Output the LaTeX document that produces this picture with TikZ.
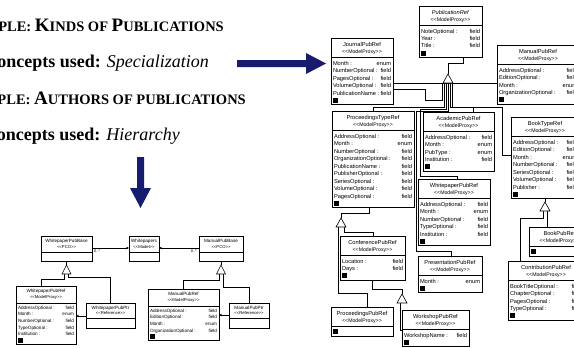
\documentclass[tikz,border=0pt]{standalone}
\usepackage{fontspec}
\setmainfont{Liberation Serif}
\newfontfamily\umlfont{Liberation Sans}
\usetikzlibrary{arrows.meta}
\definecolor{navy}{HTML}{161C6E}
\newcommand\stt[1]{<\kern0pt<#1>\kern0pt>}
\newcommand\bigc[1]{{\fontsize{19}{19}\selectfont #1}}
\newcommand\smc[1]{{\fontsize{14.5}{14.5}\selectfont #1}}
\tikzset{
 box/.style={draw=black, line width=0.7pt, fill=white, inner sep=0pt, outer sep=0pt},
 sepl/.style={line width=0.6pt},
 gen/.style={draw=black, line width=0.6pt},
 tri/.style={draw=black, fill=white, line width=0.6pt, line join=miter},
 rtitle/.style={font=\umlfont\fontsize{5.7}{6}\selectfont, inner sep=0pt, anchor=base},
 rster/.style={font=\umlfont\fontsize{5.2}{6}\selectfont, inner sep=0pt, anchor=base},
 ratt/.style={font=\umlfont\fontsize{5.7}{6}\selectfont, inner sep=0pt},
 ltitle/.style={font=\umlfont\fontsize{4.6}{5}\selectfont, inner sep=0pt, anchor=base},
 lster/.style={font=\umlfont\fontsize{4.2}{5}\selectfont, inner sep=0pt, anchor=base},
 latt/.style={font=\umlfont\fontsize{4.6}{5}\selectfont, inner sep=0pt},
 lmult/.style={font=\umlfont\fontsize{4}{4}\selectfont, inner sep=0pt},
 heading/.style={inner sep=0pt, anchor=base east},
 assoc/.style={draw=black, line width=0.6pt, -{Stealth[length=3pt,width=2.6pt]}},
}
\newcommand\mkbox[6]{%
 \node[box, minimum width=#4pt, minimum height=#5pt, anchor=north west] (#1) at (#2,#3) {};%
 \draw[sepl] ([yshift=-#6pt]#1.north west) -- ([yshift=-#6pt]#1.north east);}
\newcommand\att[6]{%
 \node[#2, anchor=base west] (#1-#4n) at ([xshift=1.8pt,yshift=-#3pt]#1.north west) {#5 :};%
 \node[#2, anchor=base east] (#1-#4t) at ([xshift=-1.8pt,yshift=-#3pt]#1.north east) {#6};}
\newcommand\sq[1]{\fill ([xshift=2pt,yshift=2pt]#1.south west) rectangle ++(5,-5);}
% right-hand classes
\newcommand\rcls[7]{%
 \pgfmathsetmacro\hh{29+7.5*#5}%
 \mkbox{#1}{#2}{#3}{#4}{\hh}{19}%
 \node[rtitle] (#1-ti) at ([yshift=-8.5pt]#1.north) {#6};%
 \node[rster] (#1-st) at ([yshift=-15.5pt]#1.north) {#7};%
 \sq{#1}}
\newcommand\ratt[4]{%
 \pgfmathsetmacro\bl{27+7.5*#2}%
 \att{#1}{ratt}{\bl}{a#2}{#3}{#4}}
% left-hand classes
\newcommand\lref[7]{%
 \pgfmathsetmacro\hh{25+6.7*#5}%
 \mkbox{#1}{#2}{#3}{#4}{\hh}{17}%
 \node[ltitle] (#1-ti) at ([yshift=-6pt]#1.north) {#6};%
 \node[lster] (#1-st) at ([yshift=-12.5pt]#1.north) {#7};%
 \sq{#1}}
\newcommand\latt[4]{%
 \pgfmathsetmacro\bl{23+6.7*#2}%
 \att{#1}{latt}{\bl}{a#2}{#3}{#4}}
\newcommand\lsim[9]{%
 \mkbox{#1}{#2}{#3}{#4}{25}{#7}%
 \node[ltitle] (#1-ti) at ([yshift=-#8pt]#1.north) {#5};%
 \node[lster] (#1-st) at ([yshift=-#9pt]#1.north) {#6};}

\begin{document}
\begin{tikzpicture}[x=1pt,y=-1pt]
\useasboundingbox (0,0) rectangle (574,348);
\fill[white] (0,0) rectangle (574,348);

% ---------- headings ----------
\node[heading, font=\bfseries] (h1) at (224,31) {\bigc{E}\smc{XAMPLE: }\bigc{K}\smc{INDS OF }\bigc{P}\smc{UBLICATIONS}};
\node[heading, font=\fontsize{18}{18}\selectfont] (h2) at (209,67) {\textbf{Concepts used:} \textit{Specialization}};
\node[heading, font=\bfseries] (h3) at (246,104) {\bigc{E}\smc{XAMPLE: }\bigc{A}\smc{UTHORS OF PUBLICATIONS}};
\node[heading, font=\fontsize{18}{18}\selectfont] (h4) at (180,140) {\textbf{Concepts used:} \textit{Hierarchy}};

% ---------- big arrows ----------
\fill[navy] (237,60) -- (306,60) -- (306,53) -- (326,63.5) -- (306,74) -- (306,67) -- (237,67) -- cycle;
\fill[navy] (137,157) -- (144,157) -- (144,188) -- (151,188) -- (140.5,208) -- (130,188) -- (137,188) -- cycle;

% ---------- right diagram: coordinates of triangles ----------
\coordinate (g1) at (448,74);  \coordinate (g1b) at (448,83);
\coordinate (g2) at (545,202); \coordinate (g2b) at (545,211);
\coordinate (g3) at (341,218); \coordinate (g3b) at (341,227);
\coordinate (g4) at (402,294); \coordinate (g4b) at (402,303);

% ---------- right diagram: classes ----------
\rcls{pubref}{419}{6}{63}{3}{\textit{PublicationRef}}{\stt{ModelProxy}}
\ratt{pubref}{0}{NoteOptional}{field}
\ratt{pubref}{1}{Year}{field}
\ratt{pubref}{2}{Title}{field}

\rcls{jpr}{331}{38}{62}{5}{JournalPubRef}{\stt{ModelProxy}}
\ratt{jpr}{0}{Month}{enum}
\ratt{jpr}{1}{NumberOptional}{field}
\ratt{jpr}{2}{PagesOptional}{field}
\ratt{jpr}{3}{VolumeOptional}{field}
\ratt{jpr}{4}{PublicationName}{field}

\rcls{mpr}{497}{45}{82}{4}{ManualPubRef}{\stt{ModelProxy}}
\ratt{mpr}{0}{AddressOptional}{field}
\ratt{mpr}{1}{EditionOptional}{field}
\ratt{mpr}{2}{Month}{enum}
\ratt{mpr}{3}{OrganizationOptional}{field}

% connectors of PublicationRef (drawn before the boxes below)
\draw[gen] ([xshift=44pt]pubref.south west) -- ++(0,6) -| (g1);
\draw[gen] (jpr.east |- g1b) -- (mpr.west |- g1b);
\draw[gen] (jpr.east |- 0,89) -- (425,89) -- (425,100) -- (442,100) -- (442,83);
\draw[gen] (373,111) -- (373,107) -- (444,107) -- (444,83);
\draw[gen] (457,179) -- (457,176) -- (420,176) -- (420,109) -- (446,109) -- (446,83);
\draw[gen] (451,256) -- (451,251) -- (416,251) -- (416,111) -- (448,111) -- (448,83);
\draw[gen] (473,112) -- (473,107) -- (450,107) -- (450,83);
\draw[gen] (511,155) -- (502,155) -- (502,107) -- (452,107) -- (452,83);
\draw[tri] (g1) -- ++(5,9) -- ++(-10,0) -- cycle;

\rcls{ptr}{332}{111}{82}{9}{ProceedingsTypeRef}{\stt{ModelProxy}}
\ratt{ptr}{0}{AddressOptional}{field}
\ratt{ptr}{1}{Month}{enum}
\ratt{ptr}{2}{NumberOptional}{field}
\ratt{ptr}{3}{OrganizationOptional}{field}
\ratt{ptr}{4}{PublicationName}{field}
\ratt{ptr}{5}{PublisherOptional}{field}
\ratt{ptr}{6}{SeriesOptional}{field}
\ratt{ptr}{7}{VolumeOptional}{field}
\ratt{ptr}{8}{PagesOptional}{field}

\rcls{apr}{423}{112}{71}{4}{AcademicPubRef}{\stt{ModelProxy}}
\ratt{apr}{0}{AddressOptional}{field}
\ratt{apr}{1}{Month}{enum}
\ratt{apr}{2}{PubType}{enum}
\ratt{apr}{3}{Institution}{field}

\rcls{wpr}{418}{179}{72}{5}{WhitepaperPubRef}{\stt{ModelProxy}}
\ratt{wpr}{0}{AddressOptional}{field}
\ratt{wpr}{1}{Month}{enum}
\ratt{wpr}{2}{NumberOptional}{field}
\ratt{wpr}{3}{TypeOptional}{field}
\ratt{wpr}{4}{Institution}{field}

\rcls{prr}{418}{256}{64}{1}{PresentationPubRef}{\stt{ModelProxy}}
\ratt{prr}{0}{Month}{enum}

\rcls{btr}{511}{117}{68}{7}{BookTypeRef}{\stt{ModelProxy}}
\ratt{btr}{0}{AddressOptional}{field}
\ratt{btr}{1}{EditionOptional}{field}
\ratt{btr}{2}{Month}{enum}
\ratt{btr}{3}{NumberOptional}{field}
\ratt{btr}{4}{SeriesOptional}{field}
\ratt{btr}{5}{VolumeOptional}{field}
\ratt{btr}{6}{Publisher}{field}

\rcls{bpr}{529}{227}{61}{0}{BookPubRef}{\stt{ModelProxy}}

\rcls{cpr}{508}{261}{76}{4}{ContributionPubRef}{\stt{ModelProxy}}
\ratt{cpr}{0}{BookTitleOptional}{field}
\ratt{cpr}{1}{ChapterOptional}{field}
\ratt{cpr}{2}{PagesOptional}{field}
\ratt{cpr}{3}{TypeOptional}{field}

\rcls{cfr}{340}{236}{65}{2}{ConferencePubRef}{\stt{ModelProxy}}
\ratt{cfr}{0}{Location}{field}
\ratt{cfr}{1}{Days}{field}

\rcls{ppr}{331}{307}{62}{0}{ProceedingsPubRef}{\stt{ModelProxy}}

\rcls{wsr}{402}{310}{67}{1}{WorkshopPubRef}{\stt{ModelProxy}}
\ratt{wsr}{0}{WorkshopName}{field}

% other generalisations
\draw[gen] (btr.south) -- (g2);
\draw[gen] ([xshift=-2pt]g2b) -- (543,218) -| (cpr.north -| 520,0);
\draw[gen] ([xshift=2.5pt]g2b) -- (bpr.north -| 547.5,0);
\draw[tri] (g2) -- ++(5,9) -- ++(-10,0) -- cycle;

\draw[gen] (ptr.south -| 369,0) -- (369,213.5) -| (g3);
\draw[gen] ([xshift=-3pt]g3b) -- (338,293) -| (ppr.north -| 367,0);
\draw[gen] ([xshift=3pt]g3b) -- (344,232) -| (cfr.north -| 373,0);
\draw[tri] (g3) -- ++(5,9) -- ++(-10,0) -- cycle;

\draw[gen] (cfr.south -| 372,0) -- (372,289) -| (g4);
\draw[gen] ([xshift=-2pt]g4b) |- (wsr.west |- 0,330);
\draw[tri] (g4) -- ++(5,9) -- ++(-10,0) -- cycle;

% ---------- left diagram ----------
\coordinate (lg1) at (66.5,265); \coordinate (lg1b) at (66.5,274);
\coordinate (lg2) at (221,265);  \coordinate (lg2b) at (221,274);

\lsim{wpb}{41}{236}{51}{WhitepaperPubBase}{\stt{PCO}}{16}{6.5}{12}
\lsim{wps}{129}{236}{30}{Whitepapers}{\stt{Model}}{16}{6.5}{12}
\lsim{mpb}{199}{236}{44}{ManualPubBase}{\stt{PCO}}{16}{6.5}{12}

\lref{lwpr}{16}{286}{60}{5}{WhitepaperPubRef}{\stt{ModelProxy}}
\latt{lwpr}{0}{AddressOptional}{field}
\latt{lwpr}{1}{Month}{enum}
\latt{lwpr}{2}{NumberOptional}{field}
\latt{lwpr}{3}{TypeOptional}{field}
\latt{lwpr}{4}{Institution}{field}

\lsim{lwpp}{86}{303}{49}{WhitepaperPubPtr}{\stt{Reference}}{15}{6}{11.5}

\lref{lmpr}{148}{289}{71}{4}{ManualPubRef}{\stt{ModelProxy}}
\latt{lmpr}{0}{AddressOptional}{field}
\latt{lmpr}{1}{EditionOptional}{field}
\latt{lmpr}{2}{Month}{enum}
\latt{lmpr}{3}{OrganizationOptional}{field}

\lsim{lmpp}{229}{303}{40}{ManualPubPtr}{\stt{Reference}}{15}{6}{11.5}

\draw[assoc] (wpb.east |- 0,248) -- (wps.west |- 0,248);
\node[lmult, anchor=north west] (m1) at (94,249.5) {0..*};
\draw[assoc] (mpb.west |- 0,248) -- (wps.east |- 0,248);
\node[lmult, anchor=north east] (m2) at (197,249.5) {0..*};

\draw[assoc] (lwpp.west |- 0,316) -- (lwpr.east |- 0,316);
\draw[assoc] (lmpp.west |- 0,315) -- (lmpr.east |- 0,315);

\draw[gen] (wpb.south) -- (lg1);
\draw[gen] ([xshift=-2pt]lg1b) -- (64.5,279) -| (lwpr.north -| 41,0);
\draw[gen] ([xshift=2pt]lg1b) -- (68.5,277) -| (lwpp.north);
\draw[tri] (lg1) -- ++(4.5,9) -- ++(-9,0) -- cycle;

\draw[gen] (mpb.south) -- (lg2);
\draw[gen] ([xshift=-2pt]lg2b) -- (219,280) -| (lmpr.north);
\draw[gen] ([xshift=2pt]lg2b) -- (223,287) -| (lmpp.north);
\draw[tri] (lg2) -- ++(4.5,9) -- ++(-9,0) -- cycle;
\end{tikzpicture}
\end{document}
